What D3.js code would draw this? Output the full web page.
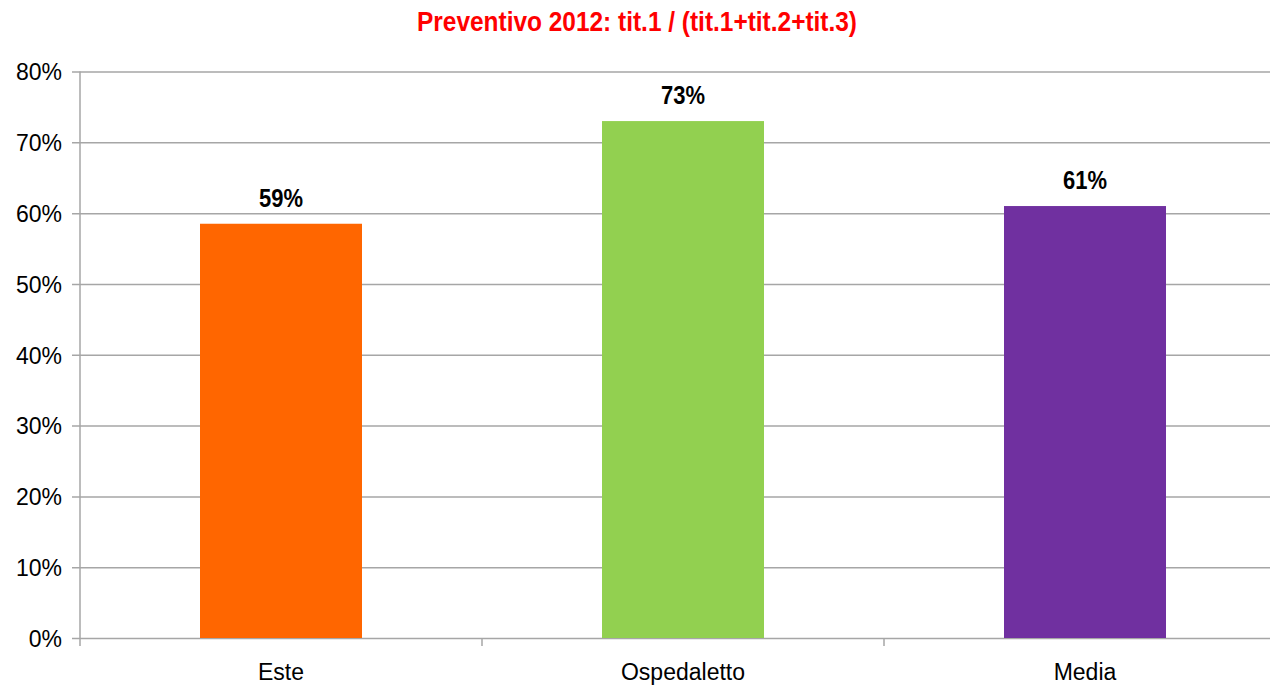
<!DOCTYPE html>
<html>
<head>
<meta charset="utf-8">
<script src="https://cdn.jsdelivr.net/npm/d3@7"></script>
<style>
  body { margin: 0; background: #fff; overflow: hidden; }
  svg { display: block; }
</style>
</head>
<body>
<div id="chart"></div>
<script>
const categories = ['Este', 'Ospedaletto', 'Media']
const values = [0.585, 0.73, 0.61]
const labels = ['59%', '73%', '61%']
const colors = ['#ff6600', '#92d050', '#7030a0']
const yTicks = [0, 0.1, 0.2, 0.3, 0.4, 0.5, 0.6, 0.7, 0.8]
const title = 'Preventivo 2012: tit.1 / (tit.1+tit.2+tit.3)'

const margin = { top: 71.5, right: 0, bottom: 48, left: 80 }
const totalWidth = 1270
const totalHeight = 686
const height = totalHeight - margin.top - margin.bottom
const width = 1206

const svg = d3
  .select('#chart')
  .append('svg')
  .attr('width', totalWidth)
  .attr('height', totalHeight)

// narrow bold look: squeeze text with textLength
svg
  .append('text')
  .attr('x', 637)
  .attr('y', 31)
  .attr('text-anchor', 'middle')
  .attr('fill', '#ff0000')
  .attr('font-family', '"Liberation Sans Narrow", "Arial Narrow", "Liberation Sans", sans-serif')
  .attr('font-weight', 'bold')
  .attr('font-size', 27)
  .attr('textLength', 440)
  .attr('lengthAdjust', 'spacingAndGlyphs')
  .text(title)

const g = svg
  .append('g')
  .attr('transform', 'translate(' + margin.left + ',' + margin.top + ')')

const xStep = d3.scaleBand().domain(categories).range([0, width])

const yPositionScale = d3
  .scaleLinear()
  .domain([0, 0.8])
  .range([height, 0])

// gridlines + y labels
const yAxis = d3
  .axisLeft(yPositionScale)
  .tickValues(yTicks)
  .tickSize(-width)
  .tickFormat(d3.format('.0%'))

g.append('g')
  .attr('class', 'y-axis')
  .call(yAxis)
  .call(ax => {
    ax.select('.domain').remove()
    ax.selectAll('.tick line')
      .attr('stroke', '#a6a6a6')
      .attr('stroke-width', 1.5)
      .attr('x1', -8)
    ax.selectAll('.tick text')
      .attr('x', -18)
      .attr('dy', '0.36em')
      .attr('fill', '#000')
      .attr('font-family', 'Arial, "Liberation Sans", sans-serif')
      .attr('font-size', 23)
  })

// left axis line
g.append('line')
  .attr('x1', 0)
  .attr('x2', 0)
  .attr('y1', 0)
  .attr('y2', height + 8)
  .attr('stroke', '#a6a6a6')
  .attr('stroke-width', 1.5)

// category ticks
g.selectAll('.x-tick')
  .data(categories.slice(1))
  .enter()
  .append('line')
  .attr('class', 'x-tick')
  .attr('x1', d => xStep(d))
  .attr('x2', d => xStep(d))
  .attr('y1', height)
  .attr('y2', height + 8)
  .attr('stroke', '#a6a6a6')
  .attr('stroke-width', 1.5)

g.selectAll('.bar')
  .data(categories)
  .enter()
  .append('rect')
  .attr('class', 'bar')
  .attr('x', d => xStep(d) + (xStep.bandwidth() - 162) / 2)
  .attr('width', 162)
  .attr('y', (d, i) => yPositionScale(values[i]))
  .attr('height', (d, i) => height - yPositionScale(values[i]))
  .attr('fill', (d, i) => colors[i])

g.selectAll('.value-label')
  .data(categories)
  .enter()
  .append('text')
  .attr('class', 'value-label')
  .attr('x', d => xStep(d) + xStep.bandwidth() / 2)
  .attr('y', (d, i) => yPositionScale(values[i]) - 17)
  .attr('text-anchor', 'middle')
  .attr('font-family', '"Liberation Sans Narrow", "Arial Narrow", "Liberation Sans", sans-serif')
  .attr('font-weight', 'bold')
  .attr('font-size', 25)
  .attr('textLength', 44)
  .attr('lengthAdjust', 'spacingAndGlyphs')
  .text((d, i) => labels[i])

g.selectAll('.cat-label')
  .data(categories)
  .enter()
  .append('text')
  .attr('class', 'cat-label')
  .attr('x', d => xStep(d) + xStep.bandwidth() / 2)
  .attr('y', height + 42)
  .attr('text-anchor', 'middle')
  .attr('font-family', 'Arial, "Liberation Sans", sans-serif')
  .attr('font-size', 23)
  .text(d => d)
</script>
</body>
</html>
